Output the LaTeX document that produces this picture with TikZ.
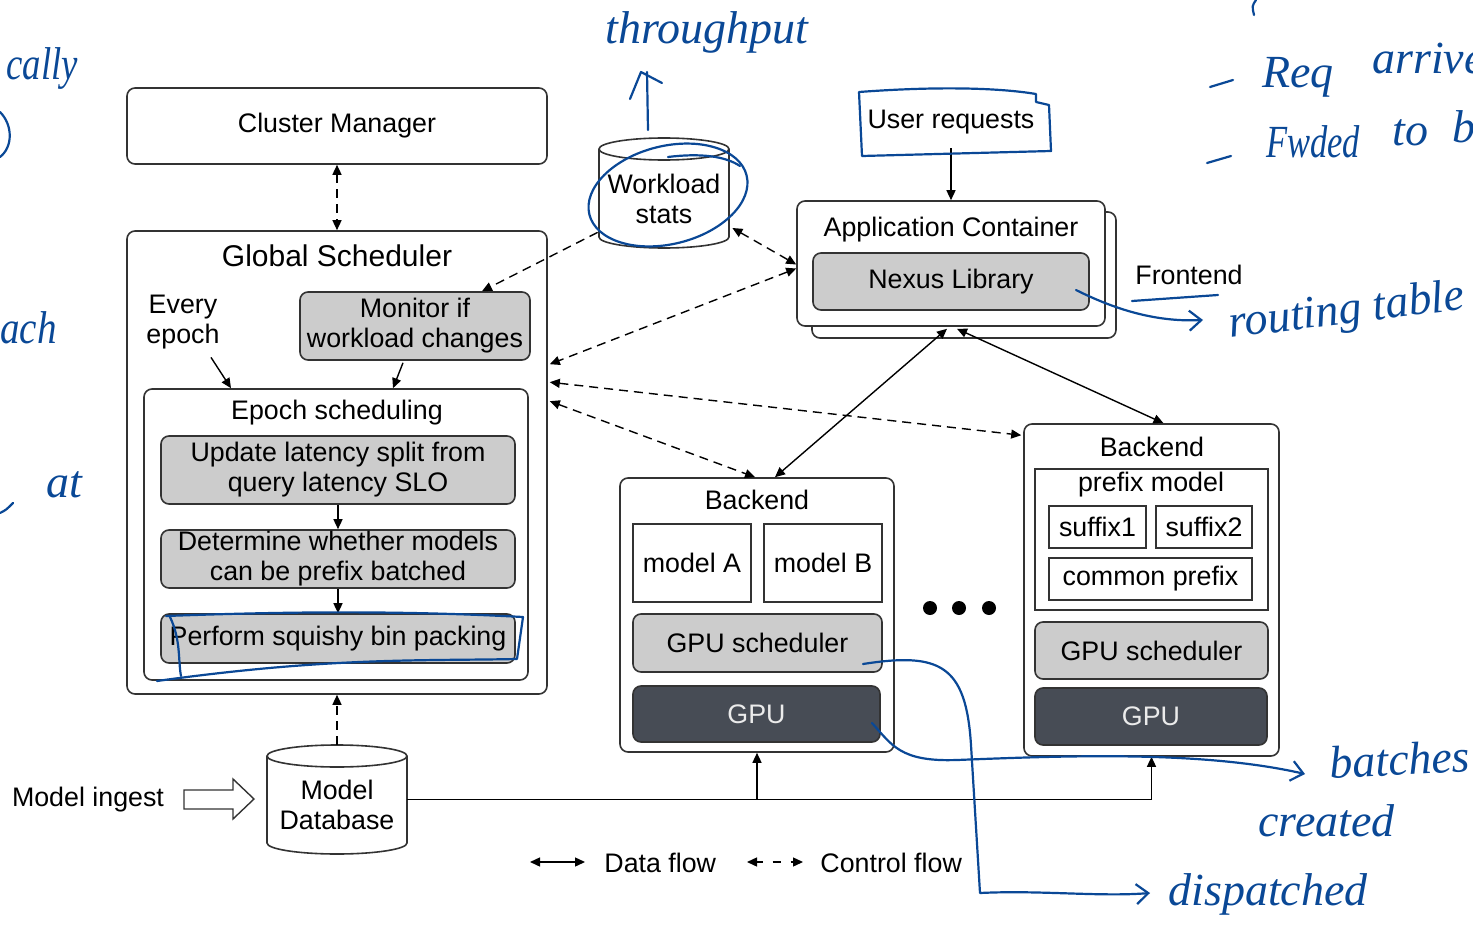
\documentclass[tikz,border=0pt]{standalone}
\usepackage{fontspec}
\setmainfont{Liberation Sans}
\newfontfamily\handfont{Liberation Serif}
\usetikzlibrary{arrows.meta,fit,calc}
\definecolor{boxgray}{HTML}{CCCCCC}
\definecolor{gpudark}{HTML}{474C55}
\definecolor{ink}{HTML}{0A4896}
\definecolor{edge}{HTML}{333333}
\begin{document}
\begin{tikzpicture}[x=0.5pt,y=0.5pt,
 box/.style={draw=edge, line width=0.8pt, rounded corners=4pt, inner sep=0pt},
 graybox/.style={box, fill=boxgray},
 darkbox/.style={box, fill=gpudark},
 sqbox/.style={draw=edge, line width=0.8pt, inner sep=0pt, fill=white},
 lbl/.style={font=\fontsize{13.4}{15}\selectfont, align=center, inner sep=0pt},
 big/.style={font=\fontsize{15}{17}\selectfont, inner sep=0pt},
 tip/.style={-{Triangle[length=5pt,width=4.5pt]}},
 dtip/.style={{Triangle[length=5pt,width=4.5pt]}-{Triangle[length=5pt,width=4.5pt]}},
 flow/.style={line width=0.7pt, draw=black},
 ctrl/.style={flow, dash pattern=on 4.5pt off 3pt},
 cyl/.style={draw=edge, line width=0.8pt, fill=white},
 hand/.style={draw=ink, line width=1.1pt, line cap=round, line join=round},
 handtext/.style={text=ink, font=\handfont\itshape\fontsize{23}{25}\selectfont, inner sep=0pt, anchor=base west},
 handtip/.style={-{Straight Barb[length=6pt,width=10pt]}},
]
\useasboundingbox (0,0) rectangle (1473,-931);

% ---------- Cluster manager and global scheduler ----------
\node[box, fit={(127,-88)(547,-164)}] (cm) {};
\node[lbl] (cmL) at (cm.center) {Cluster Manager};
\node[box, fill=white, fit={(127,-231)(547,-694)}] (gs) {};
\node[big] (gstitle) at (337,-256) {Global Scheduler};
\node[lbl] (every) at (183,-322) {Every\\epoch};
\node[graybox, fit={(300,-292)(530,-360)}] (mon) {};
\node[lbl] (monL) at (mon.center) {Monitor if\\workload changes};
\node[box, fill=white, fit={(144,-389)(528,-680)}] (es) {};
\node[lbl] (estitle) at (337,-413) {Epoch scheduling};
\node[graybox, fit={(161,-436)(515,-504)}] (upd) {};
\node[lbl] (updL) at (upd.center) {Update latency split from\\query latency SLO};
\node[graybox, fit={(161,-530)(515,-588)}] (det) {};
\node[lbl] (detL) at (det.center) {Determine whether models\\can be prefix batched};
\node[graybox, fit={(161,-614)(515,-663)}] (perf) {};
\node[lbl] (perfL) at (perf.center) {Perform squishy bin packing};

\draw[flow,tip] (upd.south) -- (det.north);
\draw[flow,tip] (det.south) -- (perf.north);
\draw[flow,tip] ($(every.south)+(28,-8)$) -- ($(es.north)+(-105,0)$);
\draw[flow,tip] ($(mon.south)+(-12,-2)$) -- ($(es.north)+(57,0)$);
\draw[ctrl,dtip] (cm.south) -- (gs.north);

% ---------- Workload stats ----------
\filldraw[cyl] (599,-149) -- (599,-237) arc[start angle=180, end angle=360, x radius=65, y radius=11]
  -- (729,-149) arc[start angle=0, end angle=180, x radius=65, y radius=11] -- cycle;
\draw[cyl, fill=none] (599,-149) arc[start angle=180, end angle=360, x radius=65, y radius=11];
\node[fit={(599,-138)(729,-248)}, inner sep=0pt] (wsc) {};
\node[lbl] (ws) at (664,-199) {Workload\\stats};

% ---------- Application container ----------
\node[box, fill=white, fit={(812,-212)(1116,-338)}] (appback) {};
\node[box, fill=white, fit={(797,-201)(1105,-326)}] (app) {};
\node[lbl] (apptitle) at (951,-230) {Application Container};
\node[graybox, fit={(813,-253)(1089,-310)}] (nexus) {};
\node[lbl] (nexusL) at (nexus.center) {Nexus Library};
\node[lbl] (ur) at (951,-122) {User requests};
\node[lbl] (fe) at (1189,-275) {Frontend};
\draw[flow,tip] ($(ur.south)+(0,-14)$) -- (app.north);

% ---------- Backend 1 ----------
\node[box, fill=white, fit={(620,-478)(894,-752)}] (be1) {};
\node[lbl] (be1title) at (757,-500) {Backend};
\node[sqbox, fit={(633,-524)(751,-602)}] (ma) {};
\node[lbl] (maL) at (ma.center) {model A};
\node[sqbox, fit={(764,-524)(882,-602)}] (mb) {};
\node[lbl] (mbL) at (mb.center) {model B};
\node[graybox, fit={(633,-614)(882,-672)}] (gsch1) {};
\node[lbl] (gsch1L) at (gsch1.center) {GPU scheduler};
\node[darkbox, fit={(633,-686)(880,-742)}] (gpu1) {};
\node[lbl, text=white!92!black] (gpu1L) at (gpu1.center) {GPU};

\fill (930,-608) circle[radius=7];
\fill (959,-608) circle[radius=7];
\fill (989,-608) circle[radius=7];

% ---------- Backend 2 ----------
\node[box, fill=white, fit={(1024,-424)(1279,-756)}] (be2) {};
\node[lbl] (be2title) at (1152,-447) {Backend};
\node[sqbox, fit={(1035,-469)(1268,-610)}] (pm) {};
\node[lbl] (pmtitle) at (1151,-485) {prefix model};
\node[sqbox, fit={(1049,-506)(1146,-548)}] (s1) {};
\node[lbl] (s1L) at (s1.center) {suffix1};
\node[sqbox, fit={(1156,-506)(1252,-548)}] (s2) {};
\node[lbl] (s2L) at (s2.center) {suffix2};
\node[sqbox, fit={(1049,-558)(1252,-600)}] (cp) {};
\node[lbl] (cpL) at (cp.center) {common prefix};
\node[graybox, fit={(1035,-622)(1268,-679)}] (gsch2) {};
\node[lbl] (gsch2L) at (gsch2.center) {GPU scheduler};
\node[darkbox, fit={(1035,-688)(1267,-745)}] (gpu2) {};
\node[lbl, text=white!92!black] (gpu2L) at (gpu2.center) {GPU};

% ---------- Control / data flows ----------
\draw[ctrl,tip] ($(wsc.south west)+(-1,16)$) -- ($(mon.north)+(67,0)$);
\draw[ctrl,dtip] ($(wsc.east)+(3,-35)$) -- ($(app.west)+(0,-1)$);
\draw[ctrl,dtip] ($(app.west)+(0,-5)$) -- ($(gs.north east)+(2,-134)$);
\draw[ctrl,dtip] ($(gs.north east)+(2,-152)$) -- ($(be2.north west)+(-2,-12)$);
\draw[ctrl,dtip] ($(gs.north east)+(2,-171)$) -- ($(be1.north)+(-2,0)$);
\draw[flow,dtip] ($(app.south)+(-4,-2)$) -- ($(be1.north)+(18,0)$);
\draw[flow,dtip] ($(app.south)+(6,-2)$) -- ($(be2.north)+(12,0)$);

% ---------- Model database ----------
\filldraw[cyl] (267,-756) -- (267,-843) arc[start angle=180, end angle=360, x radius=70, y radius=11]
  -- (407,-756) arc[start angle=0, end angle=180, x radius=70, y radius=11] -- cycle;
\draw[cyl, fill=none] (267,-756) arc[start angle=180, end angle=360, x radius=70, y radius=11];
\node[fit={(267,-745)(407,-854)}, inner sep=0pt] (mdb) {};
\node[lbl] (mdbtext) at (337,-805) {Model\\Database};
\draw[ctrl,tip] (mdb.north) -- (gs.south);

\coordinate (j1) at (be1.south |- mdb.east);
\coordinate (j2) at (be2.south |- mdb.east);
\draw[flow] (mdb.east) -- (j2);
\draw[flow,tip] (j1) -- (be1.south);
\draw[flow,tip] (j2) -- (be2.south);

\node[lbl] (ingest) at (88,-800) {Model ingest};
\draw[draw=edge, line width=0.7pt, fill=white] (184,-790) -- (233,-790) -- (233,-779) -- (254,-799)
  -- (233,-819) -- (233,-809) -- (184,-809) -- cycle;

% ---------- Legend ----------
\coordinate (la1) at (530,-862);
\coordinate (la2) at (585,-862);
\coordinate (lb1) at (747,-862);
\coordinate (lb2) at (803,-862);
\draw[flow,dtip] (la1) -- (la2);
\draw[flow,dtip, dash pattern=on 4pt off 5pt, dash phase=-8pt] (lb1) -- (lb2);
\node[lbl, anchor=west] (ldata) at (604,-863) {Data flow};
\node[lbl, anchor=west] (lctrl) at (820,-863) {Control flow};

% ---------- Handwritten annotations ----------
\begin{scope}
\clip (0,0) rectangle (1473,-931);
\draw[hand, rotate around={14:(668,-195)}] (668,-195) ellipse[x radius=81, y radius=49];
\draw[hand] (668,-157) .. controls (700,-153) and (725,-156) .. (740,-166);
\draw[hand] (648,-130) -- (647,-72);
\draw[hand] (630,-99) -- (641,-72) -- (662,-83);
\node[handtext] (thr) at (605,-44) {throughput};

\draw[hand] (862,-156) -- (859,-92) .. controls (940,-86) and (1000,-88) .. (1036,-94)
  -- (1036,-102) -- (1049,-105) -- (1051,-151) -- cycle;

\draw[hand] (1132,-301) -- (1218,-295);
\draw[hand, handtip] (1076,-290) .. controls (1120,-312) and (1160,-322) .. (1203,-320);
\node[handtext, rotate=7] (rt) at (1230,-338) {routing table};

\draw[hand] (1210,-87) -- (1233,-80);
\node[handtext] (req) at (1262,-88) {Req};
\node[handtext] (arr) at (1372,-74) {arrive};
\draw[hand] (1207,-163) -- (1231,-156);
\node[handtext, xscale=0.75] (fw) at (1266,-158) {Fwded};
\node[handtext] (to) at (1392,-146) {to};
\node[handtext] (ba) at (1452,-142) {ba};
\draw[hand] (1256,0) .. controls (1252,-6) .. (1254,-15);

\node[handtext, xscale=0.8] (cally) at (6,-80) {cally};
\draw[hand] (0,-112) .. controls (13,-125) and (13,-147) .. (0,-157);
\node[handtext, xscale=0.85] (ach) at (0,-343) {ach};
\node[handtext] (at) at (46,-497) {at};
\draw[hand] (0,-513) .. controls (6,-510) .. (13,-503);

\draw[hand] (166,-616) .. controls (300,-611) and (410,-611) .. (523,-617) -- (517,-659)
  .. controls (420,-661) and (330,-657) .. (157,-681);
\draw[hand] (170,-617) .. controls (181,-640) and (178,-660) .. (181,-676);

\draw[hand, handtip] (863,-664) .. controls (940,-652) and (966,-665) .. (971,-745)
  -- (980,-893) .. controls (1040,-890) and (1100,-897) .. (1150,-893);
\node[handtext] (disp) at (1168,-905) {dispatched};

\draw[hand, handtip] (872,-723) .. controls (892,-745) and (900,-762) .. (957,-760)
  .. controls (1060,-756) and (1200,-750) .. (1305,-774);
\node[handtext, rotate=3] (bat) at (1330,-779) {batches};
\node[handtext] (cre) at (1258,-836) {created};
\end{scope}
\end{tikzpicture}
\end{document}
